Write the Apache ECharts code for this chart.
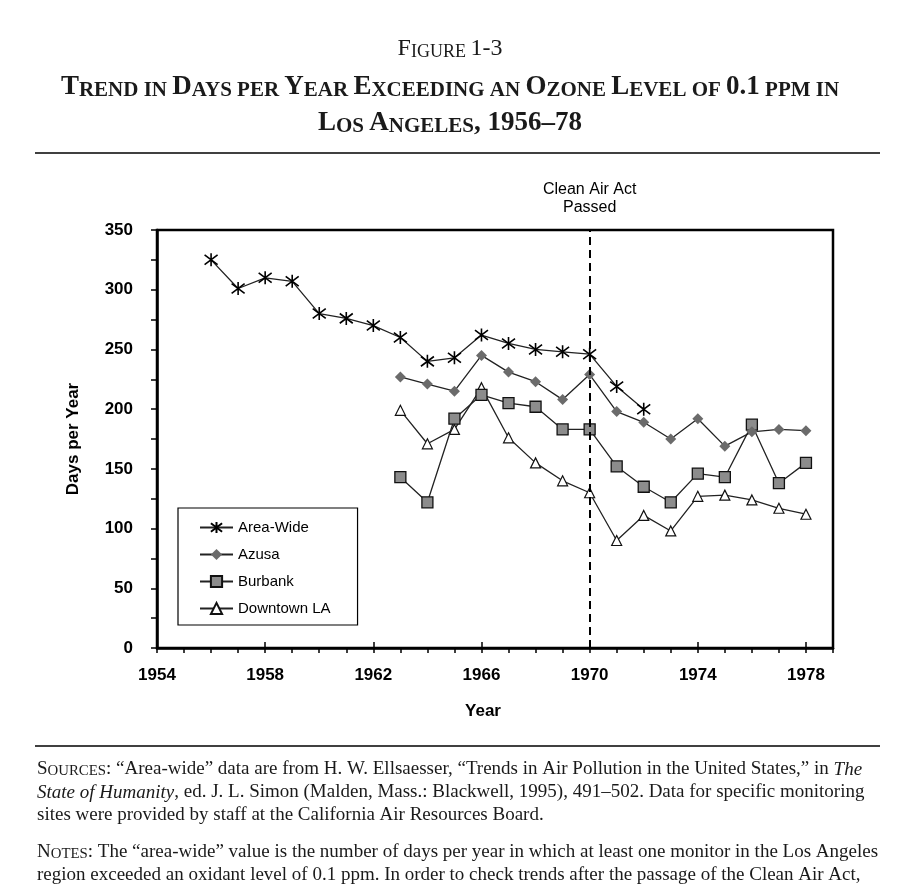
<!DOCTYPE html>
<html>
<head>
<meta charset="utf-8">
<script src="https://cdn.jsdelivr.net/npm/echarts@6/dist/echarts.min.js"></script>
<style>
html,body{margin:0;padding:0;background:#fff;}
#chart{width:900px;height:895px;}
</style>
</head>
<body>
<div id="chart"></div>
<script>
// ---- data ----
const areaWideYears = [1956,1957,1958,1959,1960,1961,1962,1963,1964,1965,1966,1967,1968,1969,1970,1971,1972];
const areaWideValues = [325,301,310,307,280,276,270,260,240,243,262,255,250,248,246,219,200];
const siteYears = [1963,1964,1965,1966,1967,1968,1969,1970,1971,1972,1973,1974,1975,1976,1977,1978];
const azusaValues = [227,221,215,245,231,223,208,229,198,189,175,192,169,181,183,182];
const burbankValues = [143,122,192,212,205,202,183,183,152,135,122,146,143,187,138,155];
const downtownValues = [199,171,183,218,176,155,140,130,90,111,98,127,128,124,117,112];
const seriesNames = ['Area-Wide','Azusa','Burbank','Downtown LA'];
const xTickLabels = [1954,1958,1962,1966,1970,1974,1978];
const yTickLabels = [0,50,100,150,200,250,300,350];
const eventYear = 1970;
const eventLabel = 'Clean Air Act\nPassed';

function pairs(xs, ys){ return xs.map((x,i)=>[x, ys[i]]); }

const SERIF = '"Liberation Serif", "Times New Roman", serif';
const SANS = '"Liberation Sans", Arial, sans-serif';
const INK = '#1a1a1a';

const chart = echarts.init(document.getElementById('chart'), null, {renderer:'canvas'});

const lineStyle = {color:'#222', width:1.3};
const asterisk = 'path://M0,-10 L0,10 M-7.5,-7.5 L7.5,7.5 M-7.5,7.5 L7.5,-7.5';

function titleRich(big, small, weight){
  return {
    B:{fontFamily:SERIF, fontSize:big, fontWeight:weight, fill:INK, verticalAlign:'bottom'},
    s:{fontFamily:SERIF, fontSize:small, fontWeight:weight, fill:INK, verticalAlign:'bottom'}
  };
}
const NF = 19;
const noteRich = {
  n:{fontFamily:SERIF, fontSize:NF, fill:INK, verticalAlign:'bottom'},
  i:{fontFamily:SERIF, fontSize:NF, fontStyle:'italic', fill:INK, verticalAlign:'bottom'},
  B:{fontFamily:SERIF, fontSize:NF, fill:INK, verticalAlign:'bottom'},
  s:{fontFamily:SERIF, fontSize:NF*0.78, fill:INK, verticalAlign:'bottom'}
};

const option = {
  animation:false,
  backgroundColor:'#fff',
  grid:{left:157, top:230, right:67, bottom:247, show:true, borderColor:'#000', borderWidth:2.5},
  legend:{
    orient:'vertical', left:178, top:508, width:179,
    data:seriesNames,
    itemWidth:33, itemHeight:14, itemGap:12,
    padding:[12,27,9,21],
    borderColor:'#000', borderWidth:1.2,
    textStyle:{fontFamily:SANS, fontSize:15, color:'#000'},
    inactiveColor:'#000'
  },
  xAxis:[{
    type:'value', min:1954, max:1979, interval:1,
    axisLine:{lineStyle:{color:'#000', width:2.5}},
    axisTick:{length:5, lineStyle:{color:'#000', width:1.5}},
    splitLine:{show:false},
    axisLabel:{margin:19, fontFamily:SANS, fontSize:17, fontWeight:'bold', color:'#000',
      formatter:v=> xTickLabels.indexOf(v) >= 0 ? String(v) : ''},
    name:'Year', nameLocation:'middle', nameGap:55,
    nameTextStyle:{fontFamily:SANS, fontSize:17, fontWeight:'bold', color:'#000', padding:[0,24,0,0]}
  },{
    type:'value', min:1954, max:1979, interval:4, position:'bottom',
    axisLine:{show:false},
    axisTick:{inside:true, length:6, lineStyle:{color:'#000', width:1.5}},
    axisLabel:{show:false}, splitLine:{show:false}
  }],
  yAxis:{
    type:'value', min:0, max:350, interval:25,
    axisLine:{show:true, lineStyle:{color:'#000', width:2.5}},
    axisTick:{show:true, length:6, lineStyle:{color:'#000', width:1.5}},
    splitLine:{show:false},
    axisLabel:{margin:24, fontFamily:SANS, fontSize:17, fontWeight:'bold', color:'#000',
      formatter:v=> yTickLabels.indexOf(v) >= 0 ? String(v) : ''},
    name:'Days per Year', nameLocation:'middle', nameGap:75,
    nameTextStyle:{fontFamily:SANS, fontSize:17, fontWeight:'bold', color:'#000'}
  },
  series:[
    {
      name:seriesNames[0], type:'line', data:pairs(areaWideYears, areaWideValues),
      symbol:asterisk, symbolSize:13, lineStyle:lineStyle,
      itemStyle:{color:'#000', borderColor:'#000', borderWidth:1.6}, z:5,
      markLine:{
        silent:true, symbol:['none','none'], animation:false,
        lineStyle:{color:'#000', width:2, type:[8,5]},
        label:{show:true, position:'end', distance:13, formatter:eventLabel,
          fontFamily:SANS, fontSize:16, color:'#000', lineHeight:18},
        data:[{xAxis:eventYear}]
      }
    },
    {
      name:seriesNames[1], type:'line', data:pairs(siteYears, azusaValues),
      symbol:'diamond', symbolSize:11, lineStyle:lineStyle,
      itemStyle:{color:'#6b6b6b', borderColor:'#6b6b6b', borderWidth:0}, z:4
    },
    {
      name:seriesNames[2], type:'line', data:pairs(siteYears, burbankValues),
      symbol:'rect', symbolSize:11, lineStyle:lineStyle,
      itemStyle:{color:'#8c8c8c', borderColor:'#111', borderWidth:1.3}, z:3
    },
    {
      name:seriesNames[3], type:'line', data:pairs(siteYears, downtownValues),
      symbol:'triangle', symbolSize:10, lineStyle:lineStyle,
      itemStyle:{color:'#fff', borderColor:'#111', borderWidth:1.2}, z:2
    }
  ],
  graphic:[
    {type:'text', left:'center', top:37, style:{text:'{B|F}{s|IGURE }{B|1-3}', rich:titleRich(24,18,'normal')}},
    {type:'text', left:'center', top:74, style:{text:'{B|T}{s|REND IN }{B|D}{s|AYS PER }{B|Y}{s|EAR }{B|E}{s|XCEEDING AN }{B|O}{s|ZONE }{B|L}{s|EVEL OF }{B|0.1}{s| PPM IN}', rich:titleRich(27,21,'bold')}},
    {type:'text', left:'center', top:110, style:{text:'{B|L}{s|OS }{B|A}{s|NGELES}{B|, 1956–78}', rich:titleRich(27,21,'bold')}},
    {type:'line', shape:{x1:35, y1:153, x2:880, y2:153}, style:{stroke:'#000', lineWidth:1.5}},
    {type:'line', shape:{x1:35, y1:746, x2:880, y2:746}, style:{stroke:'#000', lineWidth:1.5}},
    {type:'text', left:37, top:760, style:{text:'{B|S}{s|OURCES}{n|: “Area-wide” data are from H. W. Ellsaesser, “Trends in Air Pollution in the United States,” in }{i|The}', rich:noteRich}},
    {type:'text', left:37, top:783, style:{text:'{i|State of Humanity}{n|, ed. J. L. Simon (Malden, Mass.: Blackwell, 1995), 491–502. Data for specific monitoring}', rich:noteRich}},
    {type:'text', left:37, top:806, style:{text:'{n|sites were provided by staff at the California Air Resources Board.}', rich:noteRich}},
    {type:'text', left:37, top:843, style:{text:'{B|N}{s|OTES}{n|: The “area-wide” value is the number of days per year in which at least one monitor in the Los Angeles}', rich:noteRich}},
    {type:'text', left:37, top:866, style:{text:'{n|region exceeded an oxidant level of 0.1 ppm. In order to check trends after the passage of the Clean Air Act,}', rich:noteRich}}
  ]
};
chart.setOption(option);
</script>
</body>
</html>
